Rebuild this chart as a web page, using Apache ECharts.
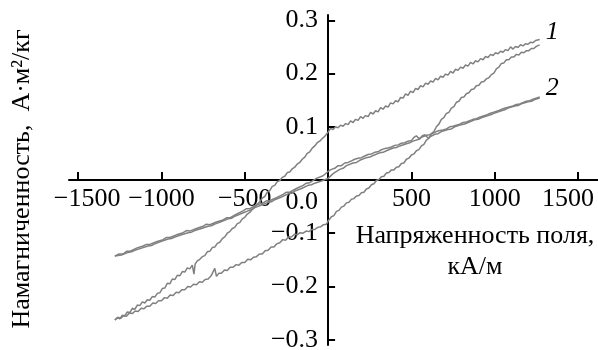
<!DOCTYPE html>
<html>
<head>
<meta charset="utf-8">
<script src="https://cdn.jsdelivr.net/npm/echarts@6/dist/echarts.min.js"></script>
<style>
  html, body { margin: 0; padding: 0; background: #fff; }
  #chart { width: 598px; height: 350px; }
</style>
</head>
<body>
<div id="chart"></div>
<script>
// tick values
const xTicks = [-1500, -1000, -500, 500, 1000, 1500]
const yTicks = [-0.3, -0.2, -0.1, 0, 0.1, 0.2, 0.3]

// loop 1, upper branch (read left to right, noisy trace)
const loop1Upper = [
  [-1280, -0.263], [-1265, -0.259], [-1250, -0.261], [-1235, -0.254], [-1220, -0.255],
  [-1205, -0.248], [-1190, -0.249], [-1175, -0.241], [-1160, -0.243], [-1145, -0.235],
  [-1130, -0.236], [-1115, -0.229], [-1100, -0.231], [-1085, -0.225], [-1070, -0.226],
  [-1055, -0.219], [-1040, -0.220], [-1025, -0.213], [-1010, -0.212], [-995, -0.204],
  [-980, -0.203], [-965, -0.194], [-950, -0.195], [-935, -0.186], [-920, -0.187],
  [-905, -0.179], [-890, -0.180], [-875, -0.172], [-860, -0.173], [-845, -0.165],
  [-830, -0.167], [-815, -0.160], [-805, -0.177], [-798, -0.158], [-785, -0.152],
  [-770, -0.149], [-755, -0.144], [-740, -0.142], [-725, -0.135], [-710, -0.134],
  [-695, -0.127], [-680, -0.126], [-665, -0.119], [-650, -0.117], [-635, -0.110],
  [-620, -0.107], [-605, -0.100], [-590, -0.097], [-575, -0.091], [-560, -0.089],
  [-545, -0.082], [-530, -0.080], [-515, -0.073], [-500, -0.070], [-485, -0.064],
  [-470, -0.061], [-455, -0.055], [-440, -0.051], [-425, -0.045], [-410, -0.041],
  [-395, -0.034], [-380, -0.031], [-365, -0.023], [-350, -0.020], [-335, -0.012],
  [-320, -0.010], [-305, -0.003], [-290, -0.001], [-275, 0.005], [-260, 0.007],
  [-245, 0.014], [-230, 0.015], [-215, 0.021], [-200, 0.024], [-185, 0.030],
  [-170, 0.033], [-155, 0.039], [-140, 0.043], [-125, 0.050], [-110, 0.053],
  [-95, 0.060], [-80, 0.064], [-65, 0.070], [-50, 0.073], [-35, 0.078],
  [-20, 0.082], [-10, 0.086], [0, 0.090], [15, 0.097], [30, 0.095],
  [45, 0.100], [60, 0.098], [75, 0.103], [90, 0.101], [105, 0.106],
  [120, 0.104], [135, 0.111], [150, 0.108], [165, 0.114], [180, 0.112],
  [195, 0.119], [210, 0.116], [225, 0.121], [240, 0.119], [255, 0.127],
  [270, 0.124], [285, 0.130], [300, 0.128], [315, 0.136], [330, 0.133],
  [345, 0.139], [360, 0.137], [375, 0.145], [390, 0.143], [405, 0.149],
  [420, 0.147], [435, 0.155], [450, 0.154], [465, 0.162], [480, 0.159],
  [495, 0.167], [510, 0.164], [525, 0.172], [540, 0.170], [555, 0.177],
  [570, 0.175], [585, 0.182], [600, 0.180], [615, 0.186], [630, 0.184],
  [645, 0.191], [660, 0.188], [675, 0.195], [690, 0.193], [705, 0.199],
  [720, 0.197], [735, 0.204], [750, 0.201], [765, 0.208], [780, 0.206],
  [795, 0.212], [810, 0.210], [825, 0.216], [840, 0.214], [855, 0.221],
  [870, 0.218], [885, 0.224], [900, 0.222], [915, 0.228], [930, 0.226],
  [945, 0.232], [960, 0.230], [975, 0.236], [990, 0.234], [1005, 0.239],
  [1020, 0.237], [1035, 0.242], [1050, 0.240], [1065, 0.245], [1080, 0.243],
  [1095, 0.250], [1110, 0.246], [1125, 0.251], [1140, 0.249], [1155, 0.254],
  [1170, 0.252], [1185, 0.256], [1200, 0.255], [1215, 0.259], [1230, 0.258],
  [1245, 0.262], [1270, 0.264]
]

// loop 1, lower branch
const loop1Lower = [
  [-1280, -0.263], [-1262, -0.258], [-1245, -0.260], [-1228, -0.255], [-1210, -0.256],
  [-1192, -0.250], [-1175, -0.251], [-1158, -0.246], [-1140, -0.247], [-1122, -0.241],
  [-1105, -0.242], [-1088, -0.237], [-1070, -0.237], [-1052, -0.231], [-1035, -0.232],
  [-1018, -0.227], [-1000, -0.227], [-982, -0.221], [-965, -0.222], [-948, -0.216],
  [-930, -0.217], [-912, -0.211], [-895, -0.212], [-878, -0.206], [-860, -0.206],
  [-842, -0.200], [-825, -0.201], [-808, -0.196], [-790, -0.197], [-772, -0.191],
  [-755, -0.192], [-738, -0.187], [-720, -0.186], [-702, -0.180], [-690, -0.180],
  [-680, -0.166], [-670, -0.181], [-655, -0.175], [-640, -0.175], [-622, -0.169],
  [-605, -0.170], [-588, -0.164], [-570, -0.164], [-552, -0.159], [-535, -0.160],
  [-518, -0.155], [-500, -0.155], [-482, -0.149], [-465, -0.150], [-448, -0.145],
  [-430, -0.144], [-412, -0.139], [-395, -0.139], [-378, -0.133], [-360, -0.132],
  [-342, -0.126], [-325, -0.126], [-308, -0.120], [-290, -0.118], [-272, -0.112],
  [-255, -0.113], [-238, -0.107], [-220, -0.107], [-202, -0.102], [-185, -0.103],
  [-168, -0.099], [-150, -0.100], [-132, -0.096], [-115, -0.097], [-98, -0.093],
  [-80, -0.093], [-62, -0.089], [-45, -0.088], [-28, -0.084], [-10, -0.083],
  [5, -0.075], [20, -0.069], [35, -0.067], [50, -0.059], [65, -0.057],
  [80, -0.051], [95, -0.049], [110, -0.043], [125, -0.042], [140, -0.036],
  [155, -0.035], [170, -0.030], [185, -0.029], [200, -0.024], [215, -0.023],
  [230, -0.017], [245, -0.015], [260, -0.009], [275, -0.007], [290, -0.001],
  [305, 0.001], [320, 0.006], [335, 0.007], [350, 0.013], [365, 0.014],
  [380, 0.019], [395, 0.019], [410, 0.024], [425, 0.025], [440, 0.031],
  [455, 0.032], [470, 0.039], [485, 0.041], [500, 0.047], [515, 0.049],
  [530, 0.055], [545, 0.057], [560, 0.064], [575, 0.067], [590, 0.075],
  [605, 0.078], [620, 0.087], [635, 0.091], [650, 0.100], [665, 0.105],
  [680, 0.114], [695, 0.117], [710, 0.125], [725, 0.127], [740, 0.135],
  [755, 0.138], [770, 0.146], [785, 0.148], [800, 0.155], [815, 0.156],
  [830, 0.162], [845, 0.164], [860, 0.170], [875, 0.171], [890, 0.177],
  [905, 0.178], [920, 0.184], [935, 0.185], [950, 0.190], [965, 0.192],
  [980, 0.198], [995, 0.201], [1010, 0.209], [1025, 0.212], [1040, 0.219],
  [1055, 0.220], [1070, 0.226], [1085, 0.226], [1100, 0.231], [1115, 0.231],
  [1130, 0.236], [1145, 0.235], [1160, 0.240], [1175, 0.239], [1190, 0.243],
  [1205, 0.243], [1220, 0.247], [1235, 0.247], [1250, 0.251], [1270, 0.254]
]

// loop 2, upper branch
const loop2Upper = [
  [-1280, -0.143], [-1255, -0.139], [-1230, -0.139], [-1210, -0.134], [-1190, -0.134],
  [-1150, -0.128], [-1110, -0.124], [-1090, -0.121], [-1070, -0.121], [-1030, -0.116],
  [-990, -0.112], [-970, -0.108], [-950, -0.108], [-910, -0.103], [-870, -0.099],
  [-850, -0.095], [-830, -0.096], [-790, -0.091], [-750, -0.087], [-730, -0.083],
  [-710, -0.084], [-670, -0.079], [-630, -0.075], [-610, -0.071], [-590, -0.071],
  [-550, -0.064], [-510, -0.058], [-490, -0.054], [-470, -0.054], [-430, -0.047],
  [-390, -0.043], [-370, -0.039], [-350, -0.039], [-310, -0.033], [-270, -0.027],
  [-250, -0.023], [-230, -0.023], [-190, -0.016], [-150, -0.010], [-130, -0.006],
  [-110, -0.005], [-70, 0.003], [-30, 0.008], [0, 0.016], [20, 0.020],
  [40, 0.022], [60, 0.027], [80, 0.027], [100, 0.032], [120, 0.033],
  [140, 0.036], [160, 0.039], [180, 0.041], [200, 0.042], [220, 0.045],
  [240, 0.048], [260, 0.049], [280, 0.052], [300, 0.053], [320, 0.057],
  [340, 0.059], [360, 0.060], [380, 0.062], [400, 0.065], [420, 0.066],
  [440, 0.069], [460, 0.070], [480, 0.073], [500, 0.074], [515, 0.080],
  [530, 0.083], [545, 0.078], [560, 0.080], [590, 0.084], [610, 0.085],
  [630, 0.088], [650, 0.091], [670, 0.093], [690, 0.094], [710, 0.096],
  [730, 0.100], [750, 0.101], [790, 0.105], [810, 0.108], [830, 0.109],
  [870, 0.114], [890, 0.115], [910, 0.118], [950, 0.122], [970, 0.125],
  [990, 0.127], [1030, 0.131], [1050, 0.134], [1070, 0.136], [1110, 0.139],
  [1130, 0.142], [1150, 0.143], [1190, 0.148], [1210, 0.149], [1230, 0.152],
  [1270, 0.156]
]

// loop 2, lower branch
const loop2Lower = [
  [-1280, -0.143], [-1240, -0.141], [-1200, -0.136], [-1180, -0.135], [-1160, -0.132],
  [-1120, -0.128], [-1080, -0.124], [-1060, -0.123], [-1040, -0.120], [-1000, -0.115],
  [-960, -0.111], [-940, -0.110], [-920, -0.107], [-880, -0.103], [-840, -0.099],
  [-820, -0.098], [-800, -0.095], [-760, -0.091], [-720, -0.087], [-700, -0.086],
  [-680, -0.083], [-640, -0.078], [-600, -0.073], [-580, -0.072], [-560, -0.068],
  [-520, -0.063], [-480, -0.058], [-460, -0.056], [-440, -0.052], [-400, -0.047],
  [-360, -0.042], [-340, -0.041], [-320, -0.037], [-280, -0.032], [-240, -0.026],
  [-220, -0.025], [-200, -0.021], [-160, -0.016], [-120, -0.010], [-100, -0.009],
  [-80, -0.006], [-40, -0.002], [0, 0.003], [30, 0.012], [70, 0.020],
  [90, 0.022], [110, 0.027], [150, 0.032], [170, 0.033], [190, 0.037],
  [230, 0.042], [250, 0.043], [270, 0.046], [310, 0.051], [330, 0.052],
  [350, 0.055], [390, 0.060], [410, 0.061], [430, 0.064], [470, 0.068],
  [490, 0.070], [510, 0.073], [550, 0.077], [565, 0.083], [580, 0.085],
  [600, 0.079], [640, 0.086], [660, 0.087], [680, 0.091], [720, 0.095],
  [740, 0.096], [760, 0.100], [800, 0.104], [820, 0.105], [840, 0.108],
  [880, 0.113], [900, 0.114], [920, 0.117], [960, 0.121], [980, 0.123],
  [1000, 0.126], [1040, 0.130], [1060, 0.132], [1080, 0.135], [1120, 0.139],
  [1140, 0.140], [1160, 0.143], [1200, 0.147], [1220, 0.148], [1240, 0.151],
  [1270, 0.154]
]

const FONT = '"Liberation Serif", "Times New Roman", serif'
const LINE = '#808080'
const FS = 26

// axis ranges and plot box
const X_MIN = -1555, X_MAX = 1620
const Y_MIN = -0.31, Y_MAX = 0.31
const GRID = { left: 69, top: 15, width: 529, height: 330 }

// put the axes through zero by shifting them from the grid edges
const xAxisOffset = -GRID.height * (0 - Y_MIN) / (Y_MAX - Y_MIN)
const yAxisOffset = -GRID.width * (0 - X_MIN) / (X_MAX - X_MIN)

const chart = echarts.init(document.getElementById('chart'))

const fmtNum = (v) => (v < 0 ? '\u2212' + Math.abs(v) : String(v))

function lineSeries(data, endText, offset) {
  return {
    type: 'line',
    data: data,
    showSymbol: false,
    smooth: false,
    lineStyle: { color: LINE, width: 1.5 },
    silent: true,
    endLabel: endText
      ? {
          show: true,
          formatter: endText,
          fontFamily: FONT,
          fontStyle: 'italic',
          fontSize: FS,
          color: '#000',
          offset: offset,
        }
      : { show: false },
  }
}

chart.setOption({
  animation: false,
  grid: Object.assign({ outerBoundsMode: 'none' }, GRID),
  xAxis: {
    type: 'value',
    min: X_MIN,
    max: X_MAX,
    position: 'bottom',
    offset: xAxisOffset,
    axisLine: { onZero: false, lineStyle: { color: '#000', width: 2 } },
    axisTick: { inside: true, length: 8, lineStyle: { color: '#000', width: 2 }, customValues: xTicks },
    splitLine: { show: false },
    axisLabel: {
      customValues: xTicks,
      margin: 6,
      color: '#000',
      fontFamily: FONT,
      fontSize: FS,
      formatter: (v) => {
        if (v === -1500) return '{l|' + fmtNum(v) + '}'
        if (v === 1500) return '{r|' + fmtNum(v) + '}'
        return fmtNum(v)
      },
      rich: {
        l: { fontFamily: FONT, fontSize: FS, color: '#000', padding: [0, 0, 0, 18] },
        r: { fontFamily: FONT, fontSize: FS, color: '#000', padding: [0, 20, 0, 0] },
      },
    },
  },
  yAxis: {
    type: 'value',
    min: Y_MIN,
    max: Y_MAX,
    position: 'left',
    offset: yAxisOffset,
    axisLine: { onZero: false, lineStyle: { color: '#000', width: 2 } },
    axisTick: { inside: true, length: 7, lineStyle: { color: '#000', width: 2 }, customValues: yTicks },
    splitLine: { show: false },
    axisLabel: {
      customValues: yTicks,
      margin: 10,
      color: '#000',
      fontFamily: FONT,
      fontSize: FS,
      formatter: (v) => {
        const s = v < 0 ? '\u2212' + Math.abs(v).toFixed(1) : v.toFixed(1)
        return v === 0 ? '{z|' + s + '}' : s
      },
      rich: {
        z: { fontFamily: FONT, fontSize: FS, color: '#000', padding: [44, 0, 0, 0] },
      },
    },
  },
  graphic: [
    {
      type: 'text',
      x: 22,
      y: 179,
      rotation: Math.PI / 2,
      style: {
        text: 'Намагниченность,  А·м²/кг',
        fontFamily: FONT,
        fontSize: FS,
        fill: '#000',
        align: 'center',
        verticalAlign: 'middle',
      },
    },
    {
      type: 'text',
      x: 475,
      y: 252,
      style: {
        text: 'Напряженность поля,\nкА/м',
        fontFamily: FONT,
        fontSize: FS,
        lineHeight: 31,
        fill: '#000',
        align: 'center',
        verticalAlign: 'middle',
      },
    },
  ],
  series: [
    lineSeries(loop1Lower),
    lineSeries(loop1Upper, '1', [-2, -7]),
    lineSeries(loop2Lower),
    lineSeries(loop2Upper, '2', [-2, -9]),
  ],
})
</script>
</body>
</html>
